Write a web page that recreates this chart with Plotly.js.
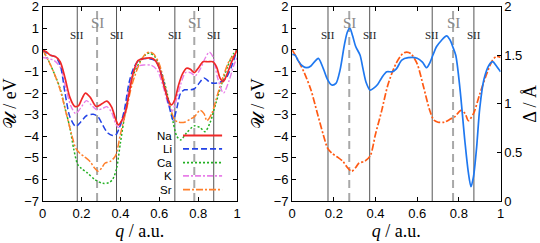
<!DOCTYPE html>
<html><head><meta charset="utf-8">
<script src="https://cdn.plot.ly/plotly-3.0.1.min.js"></script>
<style>html,body{margin:0;padding:0;background:#fff}#plot{width:540px;height:243px}</style>
</head><body><div id="plot"></div>
<script>
// ---------- data ----------
const qNa = [0,0.02,0.04,0.065,0.09,0.115,0.14,0.165,0.185,0.2,0.22,0.245,0.275,0.305,0.33,0.355,0.375,0.39,0.405,0.425,0.445,0.465,0.49,0.52,0.56,0.58,0.6,0.625,0.645,0.663,0.68,0.7,0.72,0.74,0.76,0.78,0.8,0.825,0.85,0.875,0.895,0.912,0.928,0.945,0.97,1];
const uNa = [0,-0.1,-0.25,-0.31,-0.55,-1.3,-2.2,-2.62,-2.58,-2.3,-2.0,-2.2,-2.62,-2.5,-2.37,-2.65,-3.2,-3.48,-3.3,-2.9,-2.0,-1.1,-0.5,-0.4,-0.38,-0.5,-0.85,-1.7,-2.3,-2.55,-2.3,-1.6,-1.1,-0.85,-0.9,-1.05,-0.85,-0.55,-0.55,-0.55,-0.8,-1.3,-1.47,-1.2,-0.6,0];

const qLi = [0,0.04,0.065,0.09,0.115,0.14,0.17,0.195,0.225,0.26,0.285,0.31,0.335,0.36,0.375,0.395,0.42,0.445,0.47,0.5,0.54,0.58,0.6,0.625,0.65,0.672,0.69,0.71,0.73,0.76,0.78,0.8,0.83,0.86,0.88,0.91,0.94,0.97,1];
const uLi = [0,-0.25,-0.32,-0.7,-2.0,-3.1,-3.55,-3.35,-3.05,-2.98,-3.1,-3.5,-3.85,-3.97,-3.95,-3.6,-2.8,-1.5,-0.8,-0.45,-0.4,-0.5,-0.85,-1.6,-2.6,-3.25,-2.7,-2.0,-1.85,-1.85,-1.8,-1.6,-1.3,-1.5,-1.55,-1.5,-1.35,-0.8,0];

const qCa = [0,0.03,0.06,0.09,0.115,0.14,0.16,0.18,0.2,0.23,0.27,0.31,0.34,0.36,0.38,0.4,0.43,0.46,0.5,0.53,0.55,0.58,0.61,0.64,0.67,0.69,0.71,0.74,0.78,0.81,0.835,0.86,0.89,0.92,0.95,0.98,1];
const uCa = [0,-0.5,-1.1,-1.8,-2.7,-3.6,-4.6,-5.3,-5.5,-5.7,-6.02,-6.18,-6.15,-6.0,-5.5,-4.3,-2.6,-1.3,-0.55,-0.22,-0.15,-0.35,-1.0,-2.0,-3.3,-4.0,-4.17,-3.85,-3.52,-3.6,-3.79,-3.4,-2.5,-1.6,-0.8,-0.2,0];

const qK = [0,0.03,0.06,0.09,0.12,0.145,0.17,0.195,0.225,0.25,0.28,0.31,0.33,0.355,0.375,0.39,0.41,0.43,0.455,0.48,0.52,0.56,0.59,0.62,0.645,0.665,0.685,0.71,0.735,0.76,0.785,0.81,0.835,0.857,0.875,0.9,0.93,0.96,0.98,1];
const uK = [-0.35,-0.4,-0.5,-0.8,-1.8,-2.6,-2.95,-2.7,-2.35,-2.55,-2.78,-2.7,-2.63,-2.9,-3.4,-3.6,-3.3,-2.5,-1.3,-0.8,-0.7,-0.72,-0.95,-1.7,-2.5,-2.85,-2.4,-1.6,-1.05,-1.05,-1.2,-0.9,-0.4,-0.1,-0.3,-1.3,-2.0,-1.4,-0.8,-0.35];

const qSr = [0,0.03,0.06,0.09,0.12,0.15,0.17,0.19,0.215,0.245,0.265,0.286,0.305,0.32,0.35,0.375,0.4,0.43,0.46,0.5,0.53,0.55,0.57,0.6,0.63,0.66,0.68,0.7,0.73,0.76,0.78,0.81,0.83,0.845,0.87,0.9,0.93,0.96,0.98,1];
const uSr = [0,-0.5,-1.1,-1.85,-2.9,-3.95,-4.55,-4.78,-4.95,-5.18,-5.45,-5.62,-5.45,-5.25,-5.15,-4.9,-3.9,-2.8,-1.6,-0.6,-0.18,-0.1,-0.18,-0.65,-1.7,-2.8,-3.25,-3.35,-3.35,-3.2,-3.1,-2.8,-2.95,-3.28,-2.95,-2.05,-1.2,-0.5,-0.3,-0.35];

const qDelta = [0,0.015,0.03,0.05,0.07,0.09,0.11,0.126,0.15,0.17,0.19,0.21,0.23,0.25,0.265,0.277,0.29,0.305,0.326,0.34,0.355,0.374,0.39,0.41,0.43,0.454,0.48,0.5,0.526,0.557,0.6,0.625,0.645,0.66,0.675,0.693,0.715,0.741,0.757,0.772,0.785,0.805,0.829,0.845,0.858,0.87,0.885,0.9,0.92,0.945,0.962,0.98,1];
const delta = [1.51,1.5,1.44,1.39,1.372,1.39,1.44,1.469,1.36,1.25,1.194,1.21,1.35,1.6,1.74,1.78,1.70,1.59,1.50,1.36,1.22,1.142,1.16,1.2,1.27,1.33,1.33,1.36,1.45,1.475,1.47,1.43,1.372,1.42,1.50,1.59,1.65,1.70,1.66,1.58,1.50,1.16,0.61,0.30,0.147,0.25,0.55,0.954,1.25,1.4,1.434,1.39,1.33];

const names = ['Na','Li','Ca','K','Sr'];
const siiLeft = [0.178,0.38,0.68,0.88];
const siLeft = [0.28,0.78];
const siiRight = [0.172,0.372,0.672,0.872];
const siRight = [0.274,0.772];
const xTicks = [0,0.2,0.4,0.6,0.8,1];
const xTickText = ['0','0.2','0.4','0.6','0.8','1'];
const yTicks = [-7,-6,-5,-4,-3,-2,-1,0,1,2];
const dTicks = [0,0.5,1,1.5,2];
const dTickText = ['0','0.5','1','1.5','2'];

// ---------- styles ----------
const styles = {
  Na:{color:'#f02828', width:1.7, dash:'solid'},
  Li:{color:'#2242e6', width:1.5, dash:'6px,3px'},
  Ca:{color:'#22b022', width:1.5, dash:'2px,2px'},
  K:{color:'#e87ee8', width:1.4, dash:'6px,2px,2px,2px'},
  Sr:{color:'#ff7f2a', width:1.5, dash:'7px,2px,2px,2px'}
};
const seriesQ = {Na:qNa, Li:qLi, Ca:qCa, K:qK, Sr:qSr};
const seriesU = {Na:uNa, Li:uLi, Ca:uCa, K:uK, Sr:uSr};

const traces = [];
['Ca','Sr','K','Li','Na'].forEach(n => {
  traces.push({x:seriesQ[n], y:seriesU[n], xaxis:'x', yaxis:'y', mode:'lines', name:n,
    line:{color:styles[n].color, width:styles[n].width, dash:styles[n].dash, shape:'spline', smoothing:0.8},
    showlegend:false, hoverinfo:'skip'});
});
traces.push({x:qSr, y:uSr, xaxis:'x2', yaxis:'y2', mode:'lines', name:'Sr',
  line:{color:'#ff5a14', width:1.7, dash:'7px,2px,2px,2px', shape:'spline', smoothing:0.8}, showlegend:false, hoverinfo:'skip'});
traces.push({x:qDelta, y:delta, xaxis:'x2', yaxis:'y3', mode:'lines', name:'Δ',
  line:{color:'#1f78f0', width:1.7, shape:'spline', smoothing:0.8}, showlegend:false, hoverinfo:'skip'});

const shapes = [];
const annotations = [];
function markers(xs, xref, yref, dashed){
  xs.forEach(v => {
    shapes.push({type:'line', xref:xref, yref:yref+' domain', x0:v, x1:v, y0:0, y1:1,
      line: dashed ? {color:'#a8a8a8', width:2, dash:'8px,5px'} : {color:'#555', width:1}, layer:'below'});
    annotations.push({xref:xref, yref:'paper', x:v, y: dashed ? 0.905 : 0.856, yanchor:'middle', xanchor:'center',
      text: dashed ? 'SI' : 'SII', showarrow:false, borderpad:0,
      font: dashed ? {family:'Liberation Serif, serif', size:15, color:'#888'} : {family:'Liberation Serif, serif', size:11, color:'#222'}});
  });
}
markers(siiLeft,'x','y',false); markers(siLeft,'x','y',true);
markers(siiRight,'x2','y2',false); markers(siRight,'x2','y2',true);

// legend (gnuplot style: text at left, sample at right)
const legY = [0.337,0.268,0.198,0.129,0.059];
names.forEach((n,i) => {
  shapes.push({type:'line', xref:'x domain', yref:'y domain', x0:0.722, x1:0.923, y0:legY[i], y1:legY[i],
    line:{color:styles[n].color, width:styles[n].width+0.3, dash:styles[n].dash}});
  annotations.push({xref:'x domain', yref:'y domain', x:0.67, y:legY[i], xanchor:'right', yanchor:'middle',
    text:n, showarrow:false, borderpad:0,
    font:{family:'Liberation Sans, Arial, sans-serif', size:11.5, color:'#000'}});
});

const tickFont = {family:'Liberation Sans, Arial, sans-serif', size:13, color:'#000'};
const titleFont = {family:'Liberation Serif, DejaVu Serif, serif', size:18, color:'#000'};
const baseAx = {showgrid:false, zeroline:false, showline:true, linecolor:'#000', linewidth:1,
  ticks:'inside', ticklen:4, tickcolor:'#000', tickfont:tickFont, ticklabeloverflow:'allow'};

const layout = {
  width:540, height:243, margin:{l:0,r:0,t:0,b:0}, paper_bgcolor:'#fff', plot_bgcolor:'#fff',
  showlegend:false,
  xaxis: Object.assign({}, baseAx, {domain:[0.079,0.439], range:[0,1], tickvals:xTicks, ticktext:xTickText, mirror:'ticks', anchor:'y',
    title:{text:'<i>q</i> / a.u.', font:titleFont, standoff:2}}),
  yaxis: Object.assign({}, baseAx, {domain:[0.1728,0.9724], range:[-7,2], tickvals:yTicks, mirror:'ticks', anchor:'x',
    title:{text:'𝒰 / eV', font:titleFont, standoff:4}}),
  xaxis2: Object.assign({}, baseAx, {domain:[0.541,0.927], range:[0,1], tickvals:xTicks, ticktext:xTickText, mirror:'ticks', anchor:'y2',
    title:{text:'<i>q</i> / a.u.', font:titleFont, standoff:2}}),
  yaxis2: Object.assign({}, baseAx, {domain:[0.1728,0.9724], range:[-7,2], tickvals:yTicks, anchor:'x2',
    title:{text:'𝒰 / eV', font:titleFont, standoff:4}}),
  yaxis3: Object.assign({}, baseAx, {overlaying:'y2', side:'right', anchor:'x2', range:[0,2], tickvals:dTicks, ticktext:dTickText,
    title:{text:'Δ / Å', font:titleFont, standoff:4}}),
  shapes: shapes, annotations: annotations
};
Plotly.newPlot('plot', traces, layout, {staticPlot:true, displayModeBar:false});
</script></body></html>
